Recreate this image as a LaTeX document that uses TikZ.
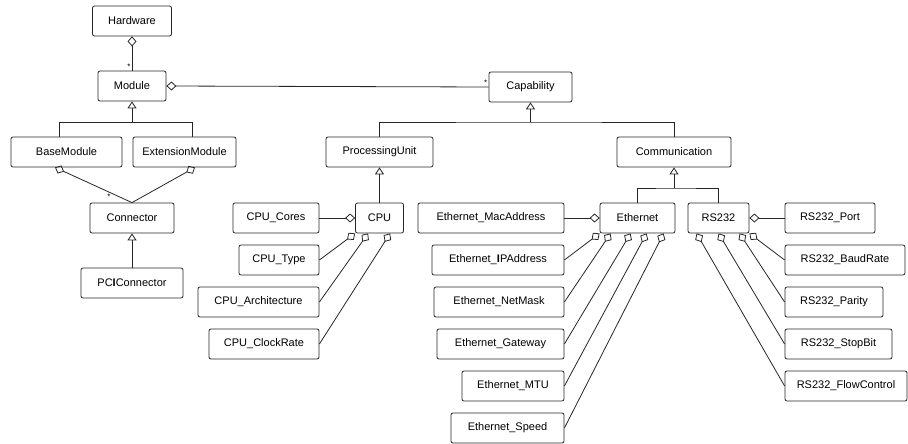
\documentclass[tikz,border=0pt]{standalone}
\usepackage{fontspec}
\setmainfont{Liberation Sans}
\usetikzlibrary{arrows.meta, positioning}

\begin{document}
\begin{tikzpicture}[x=1pt, y=-1pt,
                cls/.style={rectangle, draw=black!85, line width=0.8pt, rounded corners=2pt, minimum height=30pt, inner sep=0pt, font=\fontsize{11}{13}\selectfont},
                agg/.style={draw=black!85, line width=0.8pt, -{Diamond[open, length=10pt, width=9pt, line width=0.8pt]}},
                gen/.style={draw=black!85, line width=0.8pt, -{Triangle[open, length=7pt, width=9pt, line width=0.8pt]}},
                tree/.style={draw=black!85, line width=0.8pt},
                mult/.style={font=\fontsize{8}{8}\selectfont, inner sep=1pt}
            ]
                \useasboundingbox (0,0) rectangle (908,444);

                \node[cls, minimum width=79pt] (hardware) at (132,21) {Hardware};
                \node[cls, minimum width=68pt] (module) at (132,86) {Module};
                \node[cls, minimum width=111pt] (basemod) at (66.5,152) {BaseModule};
                \node[cls, minimum width=103pt] (extmod) at (184.5,152) {ExtensionModule};
                \node[cls, minimum width=84pt] (connector) at (132,218) {Connector};
                \node[cls, minimum width=102pt] (pciconn) at (132,283) {PC\textbf{I}Connector};

                \node[cls, minimum width=83pt] (capability) at (530.5,87) {Capability};
                \node[cls, minimum width=107pt] (procunit) at (379.5,152) {ProcessingUnit};
                \node[cls, minimum width=114pt] (comm) at (674,152) {Communication};

                \node[cls, minimum width=48pt] (cpu) at (379.5,218) {CPU};
                \node[cls, minimum width=86pt] (cpucores) at (276,218) {CPU\_Cores};
                \node[cls, minimum width=80pt] (cputype) at (279,260) {CPU\_Type};
                \node[cls, minimum width=121pt] (cpuarch) at (258.5,302) {CPU\_Architecture};
                \node[cls, minimum width=110pt] (cpuclock) at (264,344) {CPU\_ClockRate};

                \node[cls, minimum width=75pt] (ethernet) at (637.5,218) {Ethernet};
                \node[cls, minimum width=146pt] (ethmac) at (491,218) {Ethernet\_MacAddress};
                \node[cls, minimum width=132pt] (ethip) at (498,260) {Ethernet\_\textbf{I}PAddress};
                \node[cls, minimum width=130pt] (ethmask) at (499,302) {Ethernet\_NetMask};
                \node[cls, minimum width=127pt] (ethgw) at (500.5,344) {Ethernet\_Gateway};
                \node[cls, minimum width=102pt] (ethmtu) at (513,386) {Ethernet\_MTU};
                \node[cls, minimum width=113pt] (ethspeed) at (507.5,428) {Ethernet\_Speed};

                \node[cls, minimum width=61pt] (rs232) at (718.5,218) {RS232};
                \node[cls, minimum width=90pt] (rsport) at (830,218) {RS232\_Port};
                \node[cls, minimum width=120pt] (rsbaud) at (845,260) {RS232\_BaudRate};
                \node[cls, minimum width=98pt] (rsparity) at (834,302) {RS232\_Parity};
                \node[cls, minimum width=107pt] (rsstop) at (838.5,344) {RS232\_StopBit};
                \node[cls, minimum width=122pt] (rsflow) at (846,386) {RS232\_FlowControl};

                \coordinate (modjoin) at (132,122);
                \coordinate (capjoin) at (530.5,122);
                \coordinate (commjoin) at (674,188);

                \draw[agg] (module.north) node[mult, above left=0pt and 0pt] {*} -- (hardware.south);
                \draw[agg] (capability.west) node[mult, above left=0pt and 0pt] {*} -- (module.east);

                \draw[tree] ([xshift=-7.5pt]basemod.north) |- (modjoin);
                \draw[tree] ([xshift=7.5pt]extmod.north) |- (modjoin);
                \draw[gen] (modjoin) -- (module.south);

                \draw[agg] (connector.north) -- node[mult, pos=0.3, below=1pt] {*} ([xshift=-11.5pt]basemod.south);
                \draw[agg] (connector.north) -- ([xshift=10.5pt]extmod.south);
                \draw[gen] (pciconn.north) -- (connector.south);

                \draw[tree] (procunit.north) |- (capjoin) -| (comm.north);
                \draw[gen] (capjoin) -- (capability.south);
                \draw[gen] (cpu.north) -- (procunit.south);

                \draw[tree] (ethernet.north) |- (commjoin) -| (rs232.north);
                \draw[gen] (commjoin) -- (comm.south);

                \draw[agg] (cpucores.east) -- (cpu.west);
                \draw[agg] (cputype.east) -- (cpu.south west);
                \draw[agg] (cpuarch.east) -- ([xshift=13pt]cpu.south west);
                \draw[agg] (cpuclock.east) -- ([xshift=35pt]cpu.south west);

                \draw[agg] (ethmac.east) -- (ethernet.west);
                \draw[agg] (ethip.east) -- (ethernet.south west);
                \draw[agg] (ethmask.east) -- ([xshift=11pt]ethernet.south west);
                \draw[agg] (ethgw.east) -- ([xshift=31pt]ethernet.south west);
                \draw[agg] (ethmtu.east) -- ([xshift=47pt]ethernet.south west);
                \draw[agg] (ethspeed.east) -- ([xshift=64pt]ethernet.south west);

                \draw[agg] (rsport.west) -- (rs232.east);
                \draw[agg] (rsbaud.west) -- (rs232.south east);
                \draw[agg] (rsparity.west) -- ([xshift=52pt]rs232.south west);
                \draw[agg] (rsstop.west) -- ([xshift=31pt]rs232.south west);
                \draw[agg] (rsflow.west) -- ([xshift=9pt]rs232.south west);
            \end{tikzpicture}
\end{document}
